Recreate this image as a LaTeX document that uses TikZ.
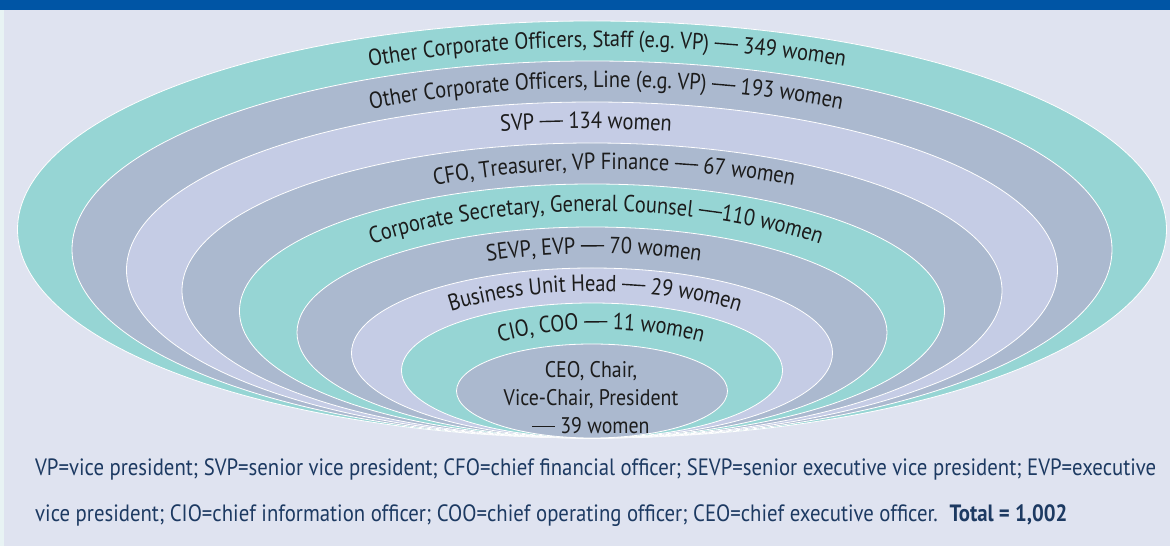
\documentclass[tikz,border=0pt]{standalone}
\usepackage{fontspec}
\setmainfont{PT Sans}[FakeStretch=0.88]
\usetikzlibrary{decorations.text}

\definecolor{paper}{HTML}{DFE3F0}
\definecolor{edgetint}{HTML}{E8F3F4}
\definecolor{barblue}{HTML}{0055A5}
\definecolor{bandteal}{HTML}{96D5D4}
\definecolor{bandgrey}{HTML}{ABB9CF}
\definecolor{bandlilac}{HTML}{C5CCE5}
\definecolor{inkdark}{HTML}{1C1C1C}
\definecolor{inknavy}{HTML}{1D3A62}

\newcommand\bandfont{\fontsize{23.3}{27}\selectfont}
% full-width dash (the font's own one is short)
\newcommand\emrule{\rule[.3em]{1em}{.06em}}

\begin{document}
\begin{tikzpicture}[x=1pt,y=1pt,
  ring/.style={fill=#1,draw=white,line width=.8pt},
  bandlabel/.style={decorate,decoration={text along path,text align=center,
    raise=-6pt,text color=inkdark,text={|\bandfont|#1}}},
  legend/.style={anchor=base west,inner sep=0pt,text=inknavy,font=\fontsize{23.6}{27}\selectfont}]
\useasboundingbox (0,0) rectangle (1170,546);
\fill[paper] (0,0) rectangle (1170,546);
\fill[edgetint] (0,0) rectangle (4,536);
\fill[barblue] (0,536) rectangle (1170,546);

% rings, outermost first; all touch the same bottom line y=108
\foreach \rx/\ry/\col in {574.5/208.5/bandteal, 520/188.5/bandgrey, 465.5/168/bandlilac,
    410/147.5/bandgrey, 352.5/127/bandteal, 295/105.5/bandgrey, 240.5/85/bandlilac,
    190.5/67.5/bandteal, 135.5/47/bandgrey}
  \draw[ring=\col] (592,108+\ry) ellipse[x radius=\rx,y radius=\ry];

% labels along the middle of each band
\path[bandlabel={Other Corporate Officers, Staff (e.g. VP) {\emrule} 349 women}]
  (607-547.25,306.5) arc[start angle=180,end angle=0,x radius=547.25,y radius=198.5];
\path[bandlabel={Other Corporate Officers, Line (e.g. VP) {\emrule} 193 women}]
  (606-492.75,286.25) arc[start angle=180,end angle=0,x radius=492.75,y radius=178.25];
\path[bandlabel={SVP {\emrule} 134 women}]
  (586-437.75,265.75) arc[start angle=180,end angle=0,x radius=437.75,y radius=157.75];
\path[bandlabel={CFO, Treasurer, VP Finance {\emrule} 67 women}]
  (614-381.25,245.25) arc[start angle=180,end angle=0,x radius=381.25,y radius=137.25];
\path[bandlabel={Corporate Secretary, General Counsel {\emrule}110 women}]
  (596-323.75,224.25) arc[start angle=180,end angle=0,x radius=323.75,y radius=116.25];
\path[bandlabel={SEVP, EVP {\emrule} 70 women}]
  (594-267.75,203.25) arc[start angle=180,end angle=0,x radius=267.75,y radius=95.25];
\path[bandlabel={Business Unit Head {\emrule} 29 women}]
  (595-215.5,184.25) arc[start angle=180,end angle=0,x radius=215.5,y radius=76.25];
\path[bandlabel={CIO, COO {\emrule} 11 women}]
  (601-163,165.25) arc[start angle=180,end angle=0,x radius=163,y radius=57.25];

\node[align=center,inner sep=0pt,text=inkdark,font=\fontsize{22.6}{28}\selectfont] (ceo) at (591,148)
  {CEO, Chair,\\Vice-Chair, President\\\emrule\ 39 women};

\node[legend] (abbrevA) at (35,70) {VP=vice president; SVP=senior vice president; CFO=chief financial officer; SEVP=senior executive vice president; EVP=executive};
\node[legend] (abbrevB) at (35,24) {vice president; CIO=chief information officer; COO=chief operating officer; CEO=chief executive officer.\enspace\textbf{Total = 1,002}};
\end{tikzpicture}
\end{document}
